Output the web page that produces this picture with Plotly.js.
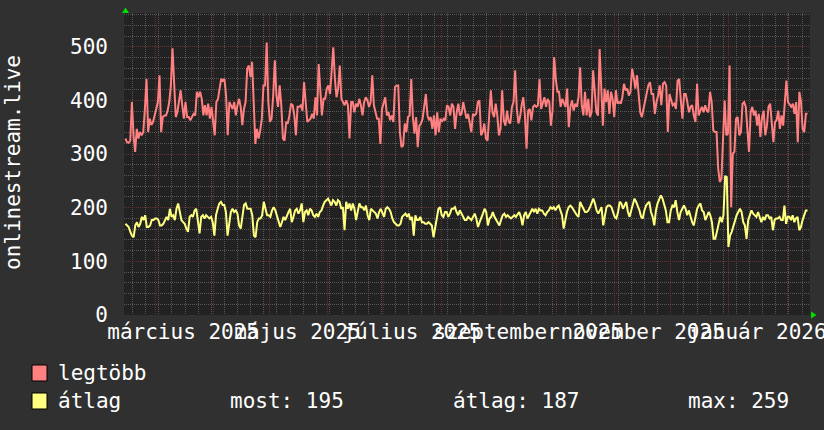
<!DOCTYPE html>
<html><head><meta charset="utf-8">
<script src="https://cdn.plot.ly/plotly-3.0.1.min.js"></script>
<style>html,body{margin:0;padding:0;background:#303030;overflow:hidden}#chart{width:824px;height:430px}</style>
</head><body><div id="chart"></div>
<script>
// time span of the daily samples
const dataStart = '2025-02-13 05:00';
const dataEnd = '2026-02-11 22:00';
const axisRange = ['2025-02-12 11:00', '2026-02-13 06:00'];

// "legtöbb" (max) series
const legtobb = [
329,322,321,325,397,335,304,347,329,341,335,341,384,440,
341,366,354,360,372,388,397,447,341,369,372,372,381,397,428,
497,422,369,378,403,419,391,366,397,
369,369,363,369,375,372,416,406,416,403,372,391,372,394,366,388,360,335,397,403,422,440,437,440,409,335,397,391,384,397,372,391,403,388,354,384,397,459,465,444,472,
397,319,347,329,344,366,428,428,
508,397,360,366,409,475,409,388,428,391,329,325,360,357,372,394,391,372,335,388,388,391,381,434,397,360,363,366,375,366,406,372,468,428,372,403,403,422,428,412,459,499,440,406,422,465,403,397,391,400,391,329,397,397,378,394,388,403,391,372,397,406,400,388,397,447,391,378,366,366,319,384,397,406,372,378,363,372,360,425,428,428,341,313,316,
357,341,369,372,440,369,338,369,313,353,357,366,388,412,372,363,369,347,372,335,378,341,366,360,366,363,391,388,372,394,388,347,378,394,372,375,397,381,366,375,360,341,375,372,375,397,400,335,341,357,329,325,372,419,378,369,394,372,335,347,419,363,353,381,360,357,388,397,456,384,357,369,391,406,372,310,381,384,363,388,391,388,391,440,384,
397,406,388,403,397,353,381,481,440,416,416,388,403,394,388,422,350,388,400,381,394,388,406,462,391,372,416,372,403,369,378,456,412,378,372,496,425,353,422,397,419,375,416,403,369,419,394,397,394,406,431,419,422,409,416,459,443,422,447,419,378,369,384,403,416,428,434,412,412,375,397,409,428,391,431,434,428,341,412,403,391,394,384,
437,440,400,366,412,412,397,378,388,391,372,360,431,372,381,388,378,391,381,378,416,397,344,341,341,273,248,254,329,400,335,338,465,201,301,304,366,369,335,341,394,397,388,335,304,378,388,372,381,353,375,332,369,381,335,353,388,394,363,322,360,363,381,347,372,353,394,437,397,391,388,394,375,397,322,416,397,347,341,375,375
];

// "átlag" (average) series
const atlag = [
170,167,164,155,148,145,167,173,164,170,183,177,186,164,164,167,177,177,180,180,177,167,167,170,177,183,177,198,183,186,177,198,208,192,177,173,170,161,155,183,186,183,195,198,177,152,183,186,180,186,183,180,183,173,148,186,198,208,211,205,205,192,148,173,192,198,192,195,189,167,161,183,205,208,198,198,198,186,148,145,173,180,180,186,211,
198,186,186,183,195,201,195,186,177,164,173,183,177,186,192,198,173,183,195,198,189,195,208,173,192,195,186,198,195,186,183,189,183,192,195,204,211,214,217,211,204,214,211,204,214,211,198,201,158,211,198,208,195,208,198,177,192,208,201,201,195,204,186,177,198,195,192,189,180,192,198,189,183,198,201,198,192,180,173,170,167,167,170,
183,186,189,183,189,177,183,148,186,177,177,183,173,173,170,170,173,170,167,145,164,186,198,201,186,183,192,192,183,189,198,198,201,192,186,195,189,186,177,177,183,180,177,183,189,180,164,173,183,189,198,192,167,180,183,192,183,177,170,167,177,186,189,183,186,183,180,183,186,183,189,192,183,167,186,192,180,186,195,198,192,198,189,
198,195,195,189,186,192,195,201,198,201,195,201,204,195,186,161,180,192,201,204,201,195,189,186,183,211,204,198,192,192,195,201,211,217,208,195,189,195,201,167,186,201,204,204,201,192,183,180,192,211,208,198,204,211,192,183,195,208,217,211,204,195,183,180,195,204,208,211,192,183,167,195,208,214,223,217,204,195,173,173,195,204,201,
214,192,177,192,198,204,198,186,195,183,173,167,186,198,204,208,195,192,177,183,192,186,173,142,142,155,167,183,173,186,259,257,127,148,155,167,177,186,192,198,192,173,167,142,177,186,195,189,186,183,192,180,173,183,177,186,186,180,183,158,177,180,180,183,177,177,204,170,183,183,177,186,173,180,183,158,164,177,186,195,195
];

const monthLabelDates = ['2025-03-16','2025-05-16','2025-07-16','2025-09-16','2025-11-16','2026-01-16'];
const monthLabelTexts = ['március 2025','május 2025','július 2025','szeptember 2025','november 2025','január 2026'];
const seriesNames = ['legtöbb','átlag'];
const seriesColors = ['#ff8080','#ffff80'];
const statLabels = ['most: 195','átlag: 187','max: 259'];
const yAxisTitle = 'onlinestream.live';

function toMs(s){ return new Date(s.replace(' ','T')+'Z').getTime(); }
function step(n){ return (toMs(dataEnd)-toMs(dataStart))/(n-1); }

const FONT = 'DejaVu Sans Mono';
const gridMinor = '#575757';
const gridMajor = '#683030';

const traces = [
  {type:'scatter', mode:'lines', name:seriesNames[0], y:legtobb, x0:dataStart, dx:step(legtobb.length),
   line:{color:seriesColors[0], width:2}, xaxis:'x', yaxis:'y', hoverinfo:'skip'},
  {type:'scatter', mode:'lines', name:seriesNames[1], y:atlag, x0:dataStart, dx:step(atlag.length),
   line:{color:seriesColors[1], width:2}, xaxis:'x2', yaxis:'y', hoverinfo:'skip'}
];

function px(x){ return (x-124)/686; }
function py(y){ return (315-y)/302; }

const layout = {
  width:824, height:430,
  paper_bgcolor:'#303030', plot_bgcolor:'#222222',
  margin:{l:124, r:14, t:13, b:115, pad:0},
  font:{family:FONT, size:21, color:'#ffffff'},
  showlegend:false,
  xaxis:{type:'date', range:axisRange, tick0:'2025-03-01', dtick:'M1', showticklabels:false, ticks:'',
    showgrid:true, gridcolor:gridMajor, griddash:'1px,1px', gridwidth:1, zeroline:false, showline:false,
    minor:{tick0:'2025-02-17', dtick:604800000, showgrid:true, gridcolor:gridMinor, griddash:'1px,1px', gridwidth:1, ticks:''}},
  xaxis2:{type:'date', overlaying:'x', anchor:'y', side:'bottom', range:axisRange, tickmode:'array',
    tickvals:monthLabelDates, ticktext:monthLabelTexts, tickangle:0, showgrid:false, zeroline:false, ticks:'',
    showline:false, ticklabelstandoff:2, ticklabeloverflow:'allow', tickfont:{family:FONT, size:21, color:'#ffffff'}},
  yaxis:{range:[0,563], tick0:0, dtick:100, ticks:'', showgrid:true, gridcolor:gridMajor, griddash:'1px,1px', gridwidth:1,
    zeroline:false, showline:false, ticklabelstandoff:15, tickfont:{family:FONT, size:21, color:'#ffffff'},
    minor:{dtick:20, showgrid:true, gridcolor:gridMinor, griddash:'1px,1px', gridwidth:1, ticks:''}},
  annotations:[
    {text:yAxisTitle, textangle:-90, xref:'paper', yref:'paper', x:px(13), y:py(163), xanchor:'center', yanchor:'middle', showarrow:false, font:{family:FONT,size:21,color:'#ffffff'}},
    {text:seriesNames[0], xref:'paper', yref:'paper', x:px(56), y:py(373), xanchor:'left', yanchor:'middle', showarrow:false, font:{family:FONT,size:21,color:'#ffffff'}},
    {text:seriesNames[1], xref:'paper', yref:'paper', x:px(56), y:py(401), xanchor:'left', yanchor:'middle', showarrow:false, font:{family:FONT,size:21,color:'#ffffff'}},
    {text:statLabels[0], xref:'paper', yref:'paper', x:px(228), y:py(401), xanchor:'left', yanchor:'middle', showarrow:false, font:{family:FONT,size:21,color:'#ffffff'}},
    {text:statLabels[1], xref:'paper', yref:'paper', x:px(451), y:py(401), xanchor:'left', yanchor:'middle', showarrow:false, font:{family:FONT,size:21,color:'#ffffff'}},
    {text:statLabels[2], xref:'paper', yref:'paper', x:px(686), y:py(401), xanchor:'left', yanchor:'middle', showarrow:false, font:{family:FONT,size:21,color:'#ffffff'}}
  ],
  shapes:[
    {type:'rect', xref:'paper', yref:'paper', x0:px(32), x1:px(47), y0:py(381), y1:py(365), fillcolor:seriesColors[0], line:{color:'#000000', width:1}},
    {type:'rect', xref:'paper', yref:'paper', x0:px(32), x1:px(47), y0:py(409), y1:py(393), fillcolor:seriesColors[1], line:{color:'#000000', width:1}},
    {type:'path', xref:'paper', yref:'paper', path:'M '+px(122)+' '+py(13)+' L '+px(129)+' '+py(13)+' L '+px(125.5)+' '+py(7.5)+' Z', fillcolor:'#00e000', line:{width:0}},
    {type:'path', xref:'paper', yref:'paper', path:'M '+px(811)+' '+py(311.5)+' L '+px(811)+' '+py(318.5)+' L '+px(816.5)+' '+py(315)+' Z', fillcolor:'#00e000', line:{width:0}}
  ]
};

Plotly.newPlot('chart', traces, layout, {staticPlot:true, displayModeBar:false});
</script>
</body></html>
